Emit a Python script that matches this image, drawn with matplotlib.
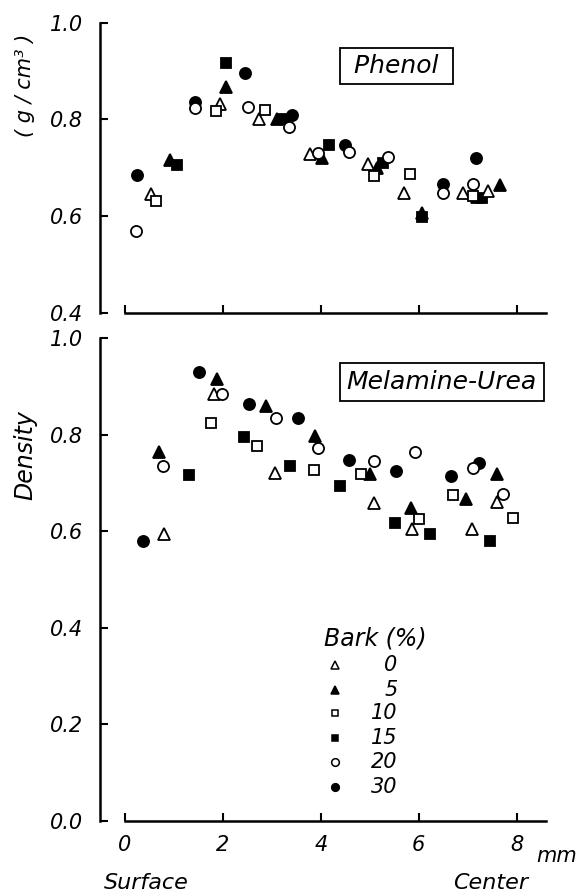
"""Density profile across board thickness for phenol and melamine-urea bonded boards."""

import matplotlib
matplotlib.use("Agg")
import matplotlib.pyplot as plt

plt.rcParams["font.family"] = ["DejaVu Sans"]
plt.rcParams["font.style"] = "italic"

# Bark content levels (%) and marker styles
bark_levels = ["0", "5", "10", "15", "20", "30"]
markers = ["^", "^", "s", "s", "o", "o"]
filled = [False, True, False, True, False, True]
msizes = [8, 8, 7, 7, 8, 8]

# Phenol panel: distance from surface (mm) and density (g/cm3)
phenol_x = [
    [0.54, 1.95, 2.74, 3.78, 4.97, 5.70, 6.90, 7.41],
    [0.92, 2.06, 3.10, 4.03, 5.15, 6.07, 7.20, 7.67],
    [0.63, 1.86, 2.87, 5.09, 5.82, 7.11],
    [1.07, 2.07, 3.25, 4.17, 5.27, 6.07, 7.30],
    [0.22, 1.43, 2.52, 3.35, 3.95, 4.58, 5.37, 6.50, 7.11],
    [0.24, 1.43, 2.45, 3.42, 4.49, 6.50, 7.16],
]
phenol_y = [
    [0.645, 0.832, 0.800, 0.728, 0.707, 0.647, 0.647, 0.653],
    [0.717, 0.868, 0.800, 0.720, 0.700, 0.606, 0.640, 0.664],
    [0.631, 0.817, 0.819, 0.684, 0.687, 0.642],
    [0.706, 0.916, 0.800, 0.748, 0.709, 0.598, 0.637],
    [0.570, 0.824, 0.826, 0.785, 0.730, 0.733, 0.723, 0.647, 0.667],
    [0.686, 0.837, 0.897, 0.809, 0.747, 0.667, 0.720],
]

# Melamine-urea panel
mu_x = [
    [0.80, 1.82, 3.07, 5.08, 5.87, 7.09, 7.59],
    [0.69, 1.89, 2.89, 3.89, 5.01, 5.85, 6.97, 7.59],
    [1.76, 2.69, 3.86, 4.82, 6.01, 6.71, 7.93],
    [1.31, 2.44, 3.37, 4.40, 5.51, 6.24, 7.46],
    [0.78, 1.99, 3.08, 3.95, 5.08, 5.92, 7.10, 7.72],
    [0.36, 1.52, 2.53, 3.54, 4.58, 5.54, 6.65, 7.23],
]
mu_y = [
    [0.594, 0.884, 0.720, 0.659, 0.604, 0.604, 0.661],
    [0.763, 0.916, 0.859, 0.798, 0.718, 0.649, 0.666, 0.718],
    [0.823, 0.777, 0.727, 0.718, 0.625, 0.675, 0.627],
    [0.716, 0.796, 0.734, 0.694, 0.618, 0.594, 0.580],
    [0.734, 0.885, 0.834, 0.772, 0.746, 0.763, 0.731, 0.678],
    [0.580, 0.930, 0.863, 0.834, 0.747, 0.725, 0.715, 0.741],
]

x_ticks = [0, 2, 4, 6, 8]
phenol_yticks = [0.4, 0.6, 0.8, 1.0]
mu_yticks = [0.0, 0.2, 0.4, 0.6, 0.8, 1.0]

W, H = 580, 896
fig = plt.figure(figsize=(W / 100, H / 100), dpi=100)
ax_top = fig.add_axes([100 / W, 1 - 313 / H, 446 / W, 290.3 / H])
ax_bot = fig.add_axes([100 / W, 1 - 821 / H, 446 / W, 483 / H])


def style_axes(ax, ylim, yticks):
    ax.set_xlim(-0.51, 8.6)
    ax.set_ylim(*ylim)
    for side in ("top", "right"):
        ax.spines[side].set_visible(False)
    ax.spines["left"].set_linewidth(1.8)
    ax.spines["bottom"].set_linewidth(1.8)
    ax.spines["bottom"].set_bounds(0, 8.6)
    ax.set_xticks(x_ticks)
    ax.set_yticks(yticks)
    ax.set_yticklabels([f"{t:.1f}" for t in yticks])
    ax.tick_params(direction="in", length=6, width=1.5, labelsize=15,
                   colors="black")
    ax.tick_params(axis="y", pad=12)
    ax.tick_params(axis="x", pad=10)
    ax.patch.set_alpha(0)


def draw_series(ax, xs, ys):
    for i in range(len(bark_levels)):
        ax.plot(xs[i], ys[i], linestyle="none", marker=markers[i],
                ms=msizes[i], mec="black", mew=1.3,
                mfc="black" if filled[i] else "white",
                zorder=3 if filled[i] else 4, clip_on=False)


style_axes(ax_top, (0.4, 1.0), phenol_yticks)
ax_top.set_xticklabels([])
draw_series(ax_top, phenol_x, phenol_y)
ax_top.text(5.55, 0.911, " Phenol ", fontsize=18, ha="center", va="center",
            bbox=dict(boxstyle="square,pad=0.25", fc="white", ec="black", lw=1.3))

style_axes(ax_bot, (0.0, 1.0), mu_yticks)
ax_bot.set_xticklabels([str(t) for t in x_ticks])
draw_series(ax_bot, mu_x, mu_y)
ax_bot.text(6.47, 0.909, "Melamine-Urea", fontsize=18, ha="center", va="center",
            bbox=dict(boxstyle="square,pad=0.27", fc="white", ec="black", lw=1.3),
            clip_on=False)

# Legend drawn by hand: marker column and right-aligned bark values
ax_bot.text(5.12, 0.377, "Bark (%)", fontsize=17, ha="center", va="center")
legend_rows = [0.323, 0.272, 0.224, 0.172, 0.122, 0.070]
for i, lab in enumerate(bark_levels):
    ax_bot.plot([4.29], [legend_rows[i]], linestyle="none", marker=markers[i],
                ms=msizes[i] - 2.5, mec="black", mew=1.1,
                mfc="black" if filled[i] else "white")
    ax_bot.text(5.57, legend_rows[i], lab, fontsize=15, ha="right", va="center")

ax_bot.text(8.82, -0.072, "mm", fontsize=15, ha="center", va="center", clip_on=False)
fig.text(146 / W, 1 - 883 / H, "Surface", fontsize=16, ha="center", va="center")
fig.text(491 / W, 1 - 883 / H, "Center", fontsize=16, ha="center", va="center")

fig.text(25 / W, 1 - 85 / H, "( g / cm³ )", fontsize=15, rotation=90,
         ha="center", va="center")
fig.text(25 / W, 1 - 455 / H, "Density", fontsize=17, rotation=90,
         ha="center", va="center")

fig.savefig("out.png", dpi=100)
plt.close(fig)
